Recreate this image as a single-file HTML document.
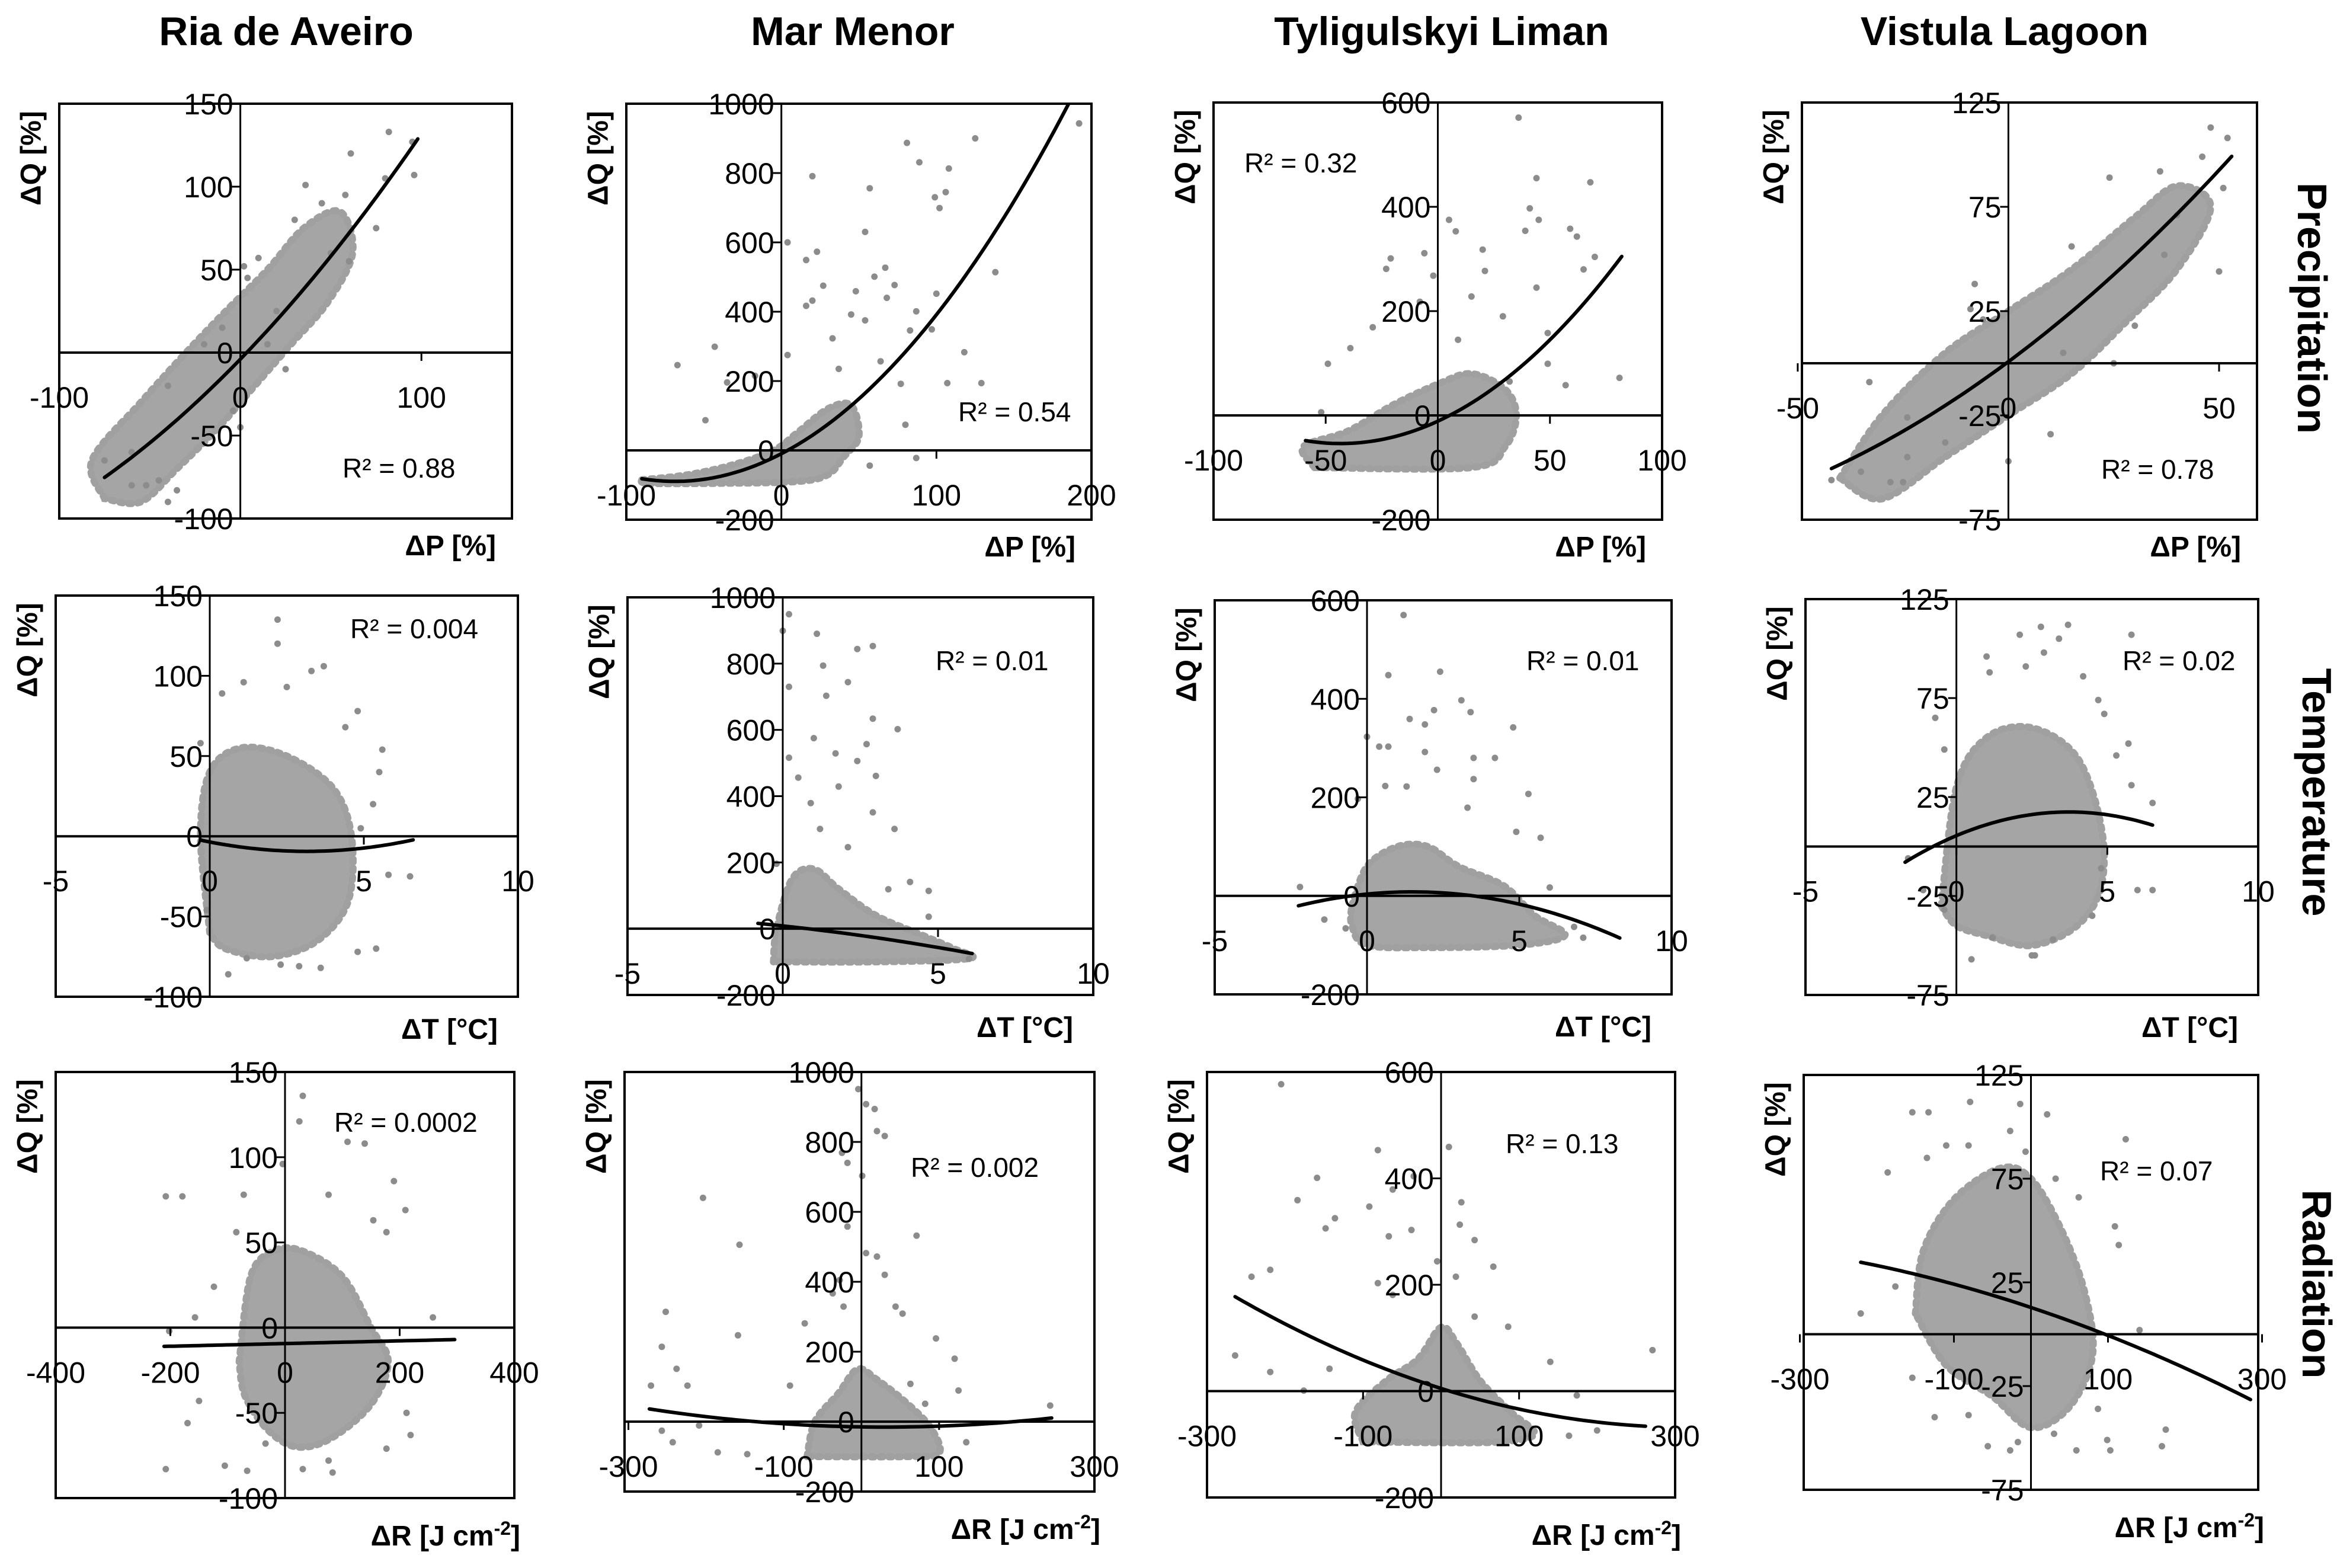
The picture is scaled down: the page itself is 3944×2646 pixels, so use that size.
<!DOCTYPE html>
<html><head><meta charset="utf-8"><title>ΔQ sensitivity scatter matrix</title>
<style>
html,body{margin:0;padding:0;background:#fff;}
svg{display:block;font-family:"Liberation Sans",Arial,sans-serif;}
</style></head>
<body>
<svg id="fig" xmlns="http://www.w3.org/2000/svg" width="3944" height="2646" viewBox="0 0 3944 2646">
<rect x="0" y="0" width="3944" height="2646" fill="#fff"/>
<text x="483" y="76" font-size="68" font-weight="bold" text-anchor="middle">Ria de Aveiro</text>
<text x="1439" y="76" font-size="68" font-weight="bold" text-anchor="middle">Mar Menor</text>
<text x="2433" y="76" font-size="68" font-weight="bold" text-anchor="middle">Tyligulskyi Liman</text>
<text x="3383" y="76" font-size="68" font-weight="bold" text-anchor="middle">Vistula Lagoon</text>
<text transform="translate(3878,520) rotate(90)" font-size="70" font-weight="bold" text-anchor="middle">Precipitation</text>
<text transform="translate(3886,1337) rotate(90)" font-size="70" font-weight="bold" text-anchor="middle">Temperature</text>
<text transform="translate(3886,2167) rotate(90)" font-size="70" font-weight="bold" text-anchor="middle">Radiation</text>
<g id="panels"></g>
</svg>
<script>
// ---------- tick label data ----------
const yTicksRia = [-100,-50,0,50,100,150];
const yTicksMar = [-200,0,200,400,600,800,1000];
const yTicksTyl = [-200,0,200,400,600];
const yTicksVis = [-75,-25,25,75,125];
const xTicksP1 = [-100,0,100];
const xTicksP2 = [-100,0,100,200];
const xTicksP3 = [-100,-50,0,50,100];
const xTicksP4 = [-50,0,50];
const xTicksT = [-5,0,5,10];
const xTicksR1 = [-400,-200,0,200,400];
const xTicksR = [-300,-100,100,300];
const r2Labels = ["0.88","0.54","0.32","0.78","0.004","0.01","0.01","0.02","0.0002","0.002","0.13","0.07"];

// ---------- series data (dense cloud cores, scattered points, trend lines) ----------
const p1Cloud = [[-75,-88],[-82,-65],[-55,-30],[-30,0],[-8,25],[15,50],[35,75],[55,85],[62,60],[48,30],[28,5],[8,-20],[-12,-45],[-35,-70],[-55,-90]];
const p1Pts = [[82,133],[95,127],[61,120],[80,105],[96,107],[36,101],[75,75],[58,95],[60,55],[50,60],[-35,-83],[-52,-80],[-40,-90],[-60,-80],[-75,-65],[-45,-77],[2,52],[4,45],[10,57],[-4,-35],[0,-45],[-20,5],[-40,-20],[30,80],[45,90],[20,25],[25,-10],[-60,-60],[-10,15],[15,5]];
const p1Trend = [[-75,-73],[-40,-50],[0,-2],[43,50],[98,128]];

const p2Cloud = [[-90,-85],[-60,-70],[-30,-40],[-5,0],[10,50],[30,120],[45,130],[50,40],[40,-20],[30,-70],[10,-90],[-40,-95],[-85,-95]];
const p2Pts = [[192,943],[125,900],[81,887],[89,831],[108,813],[20,791],[57,756],[99,730],[106,745],[102,699],[4,600],[54,630],[16,549],[23,573],[138,514],[67,527],[60,501],[73,477],[27,475],[48,459],[100,452],[68,440],[20,432],[16,417],[87,401],[45,392],[54,375],[97,349],[83,346],[-67,246],[-43,299],[118,283],[107,194],[129,194],[-17,215],[-35,196],[-49,87],[33,323],[4,275],[37,235],[64,257],[77,192],[80,74],[57,-44],[87,-22]];
const p2Trend = [[-90,-74],[-50,-78],[0,-48],[50,157],[100,431],[150,693],[185,1000]];

const p3Cloud = [[-55,-100],[-60,-60],[-40,-30],[-20,20],[0,60],[15,80],[30,50],[35,0],[30,-60],[15,-100]];
const p3Pts = [[36,571],[44,455],[68,447],[41,397],[45,375],[5,375],[8,353],[39,354],[59,358],[62,343],[70,304],[-21,301],[-6,311],[20,318],[-23,281],[-2,268],[21,277],[65,280],[-39,129],[-8,218],[15,228],[29,190],[49,158],[57,58],[81,72],[32,65],[49,99],[-49,99],[-52,6],[-29,169],[9,145],[44,245]];
const p3Trend = [[-59,-50],[-30,-45],[0,-15],[25,51],[50,148],[82,304]];

const p4Cloud = [[-40,-55],[-30,-25],[-15,5],[0,25],[15,45],[30,70],[40,85],[48,75],[40,45],[28,20],[15,-5],[0,-25],[-15,-45],[-30,-65]];
const p4Pts = [[48,113],[52,108],[46,99],[24,89],[36,92],[51,84],[40,71],[50,44],[37,52],[15,56],[-8,38],[13,5],[10,-34],[0,-47],[-42,-56],[-28,-57],[-25,-57],[-35,-52],[-24,-45],[-15,-38],[-24,-26],[25,0],[30,18],[-6,21],[-9,26],[-33,-9]];
const p4Trend = [[-42,-54],[-24,-26],[0,2],[25,38],[37,64],[53,102]];

const p5Cloud = [[0,-60],[-0.3,0],[0,40],[1,55],[2.5,50],[4,30],[4.6,0],[4.5,-40],[3.5,-65],[2,-75],[0.5,-70]];
const p5Pts = [[2.2,135],[2.2,120],[3.7,106],[3.3,103],[1.1,96],[2.5,93],[0.4,89],[4.8,78],[4.4,68],[5.6,54],[5.5,40],[-0.3,58],[5.3,20],[4.9,5],[6.5,-25],[5.8,-24],[5.4,-70],[4.8,-72],[0.6,-86],[2.3,-80],[3.6,-82],[2.9,-81],[-0.1,-46],[1.2,-76]];
const p5Trend = [[-0.3,-2],[1.2,-7.5],[2.9,-10.4],[4.6,-6.6],[6.6,-2.8]];

const p6Cloud = [[-0.3,-100],[-0.2,0],[0.3,150],[1,180],[1.8,120],[3,40],[4.5,-20],[5.5,-60],[6,-90],[3,-100]];
const p6Pts = [[0.2,949],[0,899],[1.1,890],[2.9,853],[2.4,844],[1.3,794],[2.1,744],[0.2,730],[1.4,703],[2.9,634],[3.7,602],[2.7,557],[1,575],[1.7,529],[2.4,506],[0.2,516],[3,461],[0.5,456],[1.8,429],[0.9,379],[2.9,351],[1.2,301],[3.6,301],[2.1,246],[-0.2,196],[4.1,141],[4.7,114],[3.4,119],[4.7,36],[6,-91]];
const p6Trend = [[-0.8,16],[2.7,-23],[6.1,-75]];

const p7Cloud = [[-0.5,-20],[0,60],[1,100],[2,100],[3,60],[4.5,20],[5.5,-40],[6.5,-80],[5,-100],[2,-105],[0,-100],[-0.5,-60]];
const p7Pts = [[1.2,570],[0.7,448],[2.4,455],[3.1,397],[3.4,373],[2.2,377],[4.8,342],[1.4,359],[1.9,348],[0.4,303],[0.7,303],[1.9,292],[4.2,280],[3.5,280],[2.3,256],[3.5,237],[5.3,207],[0.6,223],[1.3,222],[3.3,179],[5.7,118],[4.9,130],[0,323],[-0.3,197],[-2.2,18],[-1.4,-48],[-0.7,-66],[6.8,-63],[7.1,-85],[6,17]];
const p7Trend = [[-2.25,-20],[0,4],[1.5,7],[3.75,-2],[6.2,-36],[8.3,-86]];

const p8Cloud = [[-0.5,-30],[0,30],[1,55],[2.5,60],[4,45],[4.8,10],[4.8,-20],[4,-40],[2.5,-50],[1,-45],[0,-40]];
const p8Pts = [[2.8,111],[3.7,112],[2.1,107],[3.4,105],[5.8,107],[2.9,98],[1.1,88],[2.3,91],[4.2,86],[1,96],[4.7,74],[-0.7,65],[4.9,67],[5.3,46],[5.7,52],[6.5,22],[5.8,31],[-0.4,49],[4.8,-11],[6,-22],[6.5,-22],[4.5,-35],[0.5,-57],[2.6,-55],[2.5,-55],[1.2,-46],[3.2,-47],[-0.4,-32],[-1.1,-22],[-1.6,-6]];
const p8Trend = [[-1.7,-8],[0,5.8],[2.3,15],[3.8,18],[6.5,10.7]];

const p9Cloud = [[-80,-20],[-60,30],[-20,45],[30,45],[100,30],[150,0],[180,-20],[150,-45],[80,-65],[20,-70],[-30,-60],[-70,-40]];
const p9Pts = [[31,136],[25,121],[109,109],[139,108],[-4,96],[190,86],[-208,77],[-179,77],[-72,78],[76,78],[210,69],[177,56],[-85,56],[154,63],[-157,6],[258,6],[-124,24],[-202,-2],[-150,-43],[-170,-56],[212,-50],[177,-71],[219,-63],[-208,-83],[-105,-81],[-66,-84],[31,-83],[83,-85],[76,-78],[-34,-68]];
const p9Trend = [[-211,-11],[296,-7]];

const p10Cloud = [[-70,-100],[-60,0],[-30,80],[-5,150],[20,120],[60,50],[90,-20],[100,-90],[60,-100]];
const p10Pts = [[-4,951],[6,908],[17,894],[20,831],[30,817],[-25,769],[-18,740],[1,703],[-204,640],[-18,558],[71,532],[-157,506],[20,472],[6,482],[30,420],[-28,405],[44,329],[53,309],[-37,367],[-23,329],[-73,281],[-252,314],[-159,247],[-257,214],[96,238],[120,180],[-238,151],[-271,103],[-224,103],[63,108],[125,89],[82,51],[243,46],[-257,-26],[-209,-11],[-243,-59],[-185,-88],[-147,-93],[135,-59],[-92,103]];
const p10Trend = [[-273,36],[-147,3],[-13,-16],[120,-10],[245,10]];

const p11Cloud = [[-100,-95],[-110,-40],[-70,20],[-30,60],[0,120],[20,90],[50,20],[90,-40],[120,-80],[80,-95],[0,-97]];
const p11Pts = [[-205,577],[10,459],[-81,453],[-159,401],[-35,404],[26,355],[-62,379],[-92,347],[-184,359],[-136,325],[24,313],[43,284],[-67,291],[-38,303],[-148,306],[-219,228],[-243,215],[19,215],[-5,244],[67,234],[-81,203],[-62,181],[86,121],[43,140],[-264,67],[-219,36],[271,77],[140,55],[174,-8],[200,-74],[164,-84],[-176,1],[-143,42]];
const p11Trend = [[-264,174],[-157,102],[-62,36],[0,4],[81,-30],[176,-55],[262,-64]];

const p12Cloud = [[-150,10],[-140,40],[-100,65],[-40,80],[0,75],[40,50],[70,20],[80,-10],[50,-35],[0,-45],[-50,-30],[-110,-15]];
const p12Pts = [[-79,112],[-14,111],[-154,107],[-133,107],[21,106],[-27,98],[123,94],[-110,91],[-81,91],[-135,85],[-186,78],[-7,88],[32,75],[62,66],[109,52],[114,43],[-221,10],[-176,23],[141,2],[175,-46],[170,-54],[103,-56],[59,-56],[-27,-56],[-56,-54],[-125,-40],[-81,-39],[30,-48],[99,-51],[-17,-52],[-154,-21],[87,-36]];
const p12Trend = [[-221,34.7],[0,12.9],[285,-31.5]];

// ---------- layout (pixel geometry, not data) ----------
const panels = [
 {id:'ria-precip', L:100,R:864,T:175,B:875, xd:[-100,150], yd:[-100,150], xt:xTicksP1, yt:yTicksRia, cloud:p1Cloud, pts:p1Pts, trend:p1Trend, r2:[578,806], xl:'ΔP [%]', row:0},
 {id:'mar-precip', L:1057,R:1842,T:175,B:877, xd:[-100,200], yd:[-200,1000], xt:xTicksP2, yt:yTicksMar, cloud:p2Cloud, pts:p2Pts, trend:p2Trend, r2:[1617,711], xl:'ΔP [%]', row:0},
 {id:'tyl-precip', L:2048,R:2805,T:173,B:877, xd:[-100,100], yd:[-200,600], xt:xTicksP3, yt:yTicksTyl, cloud:p3Cloud, pts:p3Pts, trend:p3Trend, r2:[2100,291], xl:'ΔP [%]', row:0},
 {id:'vis-precip', L:3041,R:3809,T:173,B:877, xd:[-49,59], yd:[-75,125], xt:xTicksP4, yt:yTicksVis, cloud:p4Cloud, pts:p4Pts, trend:p4Trend, r2:[3546,808], xl:'ΔP [%]', row:0},
 {id:'ria-temp', L:94,R:874,T:1005,B:1682, xd:[-5,10], yd:[-100,150], xt:xTicksT, yt:yTicksRia, cloud:p5Cloud, pts:p5Pts, trend:p5Trend, r2:[591,1077], xl:'ΔT [°C]', row:1},
 {id:'mar-temp', L:1059,R:1845,T:1008,B:1679, xd:[-5,10], yd:[-200,1000], xt:xTicksT, yt:yTicksMar, cloud:p6Cloud, pts:p6Pts, trend:p6Trend, r2:[1579,1131], xl:'ΔT [°C]', row:1},
 {id:'tyl-temp', L:2050,R:2821,T:1013,B:1678, xd:[-5,10], yd:[-200,600], xt:xTicksT, yt:yTicksTyl, cloud:p7Cloud, pts:p7Pts, trend:p7Trend, r2:[2576,1131], xl:'ΔT [°C]', row:1},
 {id:'vis-temp', L:3047,R:3811,T:1011,B:1679, xd:[-5,10], yd:[-75,125], xt:xTicksT, yt:yTicksVis, cloud:p8Cloud, pts:p8Pts, trend:p8Trend, r2:[3582,1131], xl:'ΔT [°C]', row:1},
 {id:'ria-rad', L:94,R:868,T:1809,B:2528, xd:[-400,400], yd:[-100,150], xt:xTicksR1, yt:yTicksRia, cloud:p9Cloud, pts:p9Pts, trend:p9Trend, r2:[564,1910], xl:'R', row:2},
 {id:'mar-rad', L:1054,R:1847,T:1809,B:2517, xd:[-305,300], yd:[-200,1000], xt:xTicksR, yt:yTicksMar, cloud:p10Cloud, pts:p10Pts, trend:p10Trend, r2:[1537,1986], xl:'R', row:2},
 {id:'tyl-rad', L:2037,R:2827,T:1809,B:2527, xd:[-300,300], yd:[-200,600], xt:xTicksR, yt:yTicksTyl, cloud:p11Cloud, pts:p11Pts, trend:p11Trend, r2:[2541,1946], xl:'R', row:2},
 {id:'vis-rad', L:3044,R:3811,T:1814,B:2514, xd:[-295,295], yd:[-75,125], xt:xTicksR, yt:yTicksVis, cloud:p12Cloud, pts:p12Pts, trend:p12Trend, r2:[3544,1992], xl:'R', row:2}
];
const xlOff = [[27,62],[34,71],[-10,80]];

const NS = 'http://www.w3.org/2000/svg';
const root = document.getElementById('panels');
function mk(tag, attrs, parent){
  const e = document.createElementNS(NS, tag);
  for (const k in attrs) e.setAttribute(k, attrs[k]);
  parent.appendChild(e);
  return e;
}
function smoothPath(pts){
  let d = 'M' + pts[0][0].toFixed(1) + ',' + pts[0][1].toFixed(1);
  for (let i = 0; i < pts.length - 1; i++){
    const p0 = pts[Math.max(0,i-1)], p1 = pts[i], p2 = pts[i+1], p3 = pts[Math.min(pts.length-1,i+2)];
    const c1 = [p1[0]+(p2[0]-p0[0])/6, p1[1]+(p2[1]-p0[1])/6];
    const c2 = [p2[0]-(p3[0]-p1[0])/6, p2[1]-(p3[1]-p1[1])/6];
    d += ' C' + c1[0].toFixed(1)+','+c1[1].toFixed(1)+' '+c2[0].toFixed(1)+','+c2[1].toFixed(1)+' '+p2[0].toFixed(1)+','+p2[1].toFixed(1);
  }
  return d;
}
// least-squares polynomial (degree 2, or 1 when only 2 points) through read trend points
function polyFit(pts){
  const deg = pts.length >= 3 ? 2 : 1, n = deg + 1;
  const A = Array.from({length:n}, () => new Array(n + 1).fill(0));
  pts.forEach(([x, y]) => {
    for (let i = 0; i < n; i++){
      for (let j = 0; j < n; j++) A[i][j] += Math.pow(x, i + j);
      A[i][n] += y * Math.pow(x, i);
    }
  });
  for (let i = 0; i < n; i++){
    let m = i;
    for (let k = i + 1; k < n; k++) if (Math.abs(A[k][i]) > Math.abs(A[m][i])) m = k;
    [A[i], A[m]] = [A[m], A[i]];
    for (let k = 0; k < n; k++){
      if (k === i) continue;
      const f = A[k][i] / A[i][i];
      for (let j = i; j <= n; j++) A[k][j] -= f * A[i][j];
    }
  }
  const c = A.map((r, i) => r[n] / r[i]);
  return x => c.reduce((s, ci, i) => s + ci * Math.pow(x, i), 0);
}

panels.forEach((p, idx) => {
  const sx = v => p.L + (v - p.xd[0]) / (p.xd[1] - p.xd[0]) * (p.R - p.L);
  const sy = v => p.B - (v - p.yd[0]) / (p.yd[1] - p.yd[0]) * (p.B - p.T);
  const g = mk('g', {}, root);
  
  
  const clipId = 'clip' + idx;
  const cp = mk('clipPath', {id: clipId}, g);
  mk('rect', {x:p.L, y:p.T, width:p.R-p.L, height:p.B-p.T}, cp);

  const frame = mk('rect', {x:p.L, y:p.T, width:p.R-p.L, height:p.B-p.T, fill:'#fff', stroke:'#000', 'stroke-width':4}, g);
  
  

  const data = mk('g', {'clip-path':'url(#'+clipId+')'}, g);
  
  
  const cloud = mk('path', {d: smoothPath(p.cloud.concat([p.cloud[0]]).map(q => [sx(q[0]), sy(q[1])])) + ' Z', fill:'#959595', 'fill-opacity':0.85, stroke:'#a0a0a0', 'stroke-width':12, 'stroke-dasharray':'5 10', 'stroke-linecap':'round'}, data);
  
  
  p.pts.forEach(q => {
    const c = mk('circle', {cx:sx(q[0]).toFixed(1), cy:sy(q[1]).toFixed(1), r:5.5, fill:'#8c8c8c'}, data);
    
    
  });

  const x0 = sx(0), y0 = sy(0);
  const ax = mk('line', {x1:p.L, x2:p.R, y1:y0, y2:y0, stroke:'#000', 'stroke-width':4}, g);
  
  
  const ay = mk('line', {x1:x0, x2:x0, y1:p.T, y2:p.B, stroke:'#000', 'stroke-width':3}, g);
  
  

  const f = polyFit(p.trend);
  const xa = Math.min(...p.trend.map(q => q[0])), xb = Math.max(...p.trend.map(q => q[0]));
  let d = '';
  for (let i = 0; i <= 60; i++){
    const xv = xa + (xb - xa) * i / 60;
    d += (i ? ' L' : 'M') + sx(xv).toFixed(1) + ',' + sy(f(xv)).toFixed(1);
  }
  const trend = mk('path', {d: d, fill:'none', stroke:'#000', 'stroke-width':6, 'stroke-linecap':'round', 'clip-path':'url(#'+clipId+')'}, g);
  
  

  p.xt.forEach(v => {
    const X = sx(v);
    mk('line', {x1:X, x2:X, y1:y0, y2:y0+14, stroke:'#000', 'stroke-width':3}, g);
    const t = mk('text', {x:X, y:y0+93, 'font-size':50, 'text-anchor':'middle'}, g);
    
    
    t.textContent = v;
  });
  p.yt.forEach(v => {
    const Y = sy(v);
    mk('line', {x1:x0-14, x2:x0, y1:Y, y2:Y, stroke:'#000', 'stroke-width':3}, g);
    const t = mk('text', {x:x0-12, y:Y+18, 'font-size':50, 'text-anchor':'end'}, g);
    
    
    t.textContent = v;
  });

  const yl = mk('text', {transform:'translate('+(p.L-44)+','+(p.T+92)+') rotate(-90)', 'font-size':48, 'font-weight':'bold', 'text-anchor':'middle', 'dominant-baseline':'middle'}, g);
  
  
  yl.textContent = 'ΔQ [%]';

  const off = xlOff[p.row];
  const xl = mk('text', {x:p.R-off[0], y:p.B+off[1], 'font-size':48, 'font-weight':'bold', 'text-anchor':'end'}, g);
  
  
  if (p.xl === 'R'){
    xl.textContent = 'ΔR [J cm';
    const sup = mk('tspan', {dy:-18, 'font-size':32}, xl);
    sup.textContent = '-2';
    const end = mk('tspan', {dy:18}, xl);
    end.textContent = ']';
  } else {
    xl.textContent = p.xl;
  }

  const r2 = mk('text', {x:p.r2[0], y:p.r2[1], 'font-size':46}, g);
  
  
  r2.textContent = 'R² = ' + r2Labels[idx];
});
</script>
</body></html>
